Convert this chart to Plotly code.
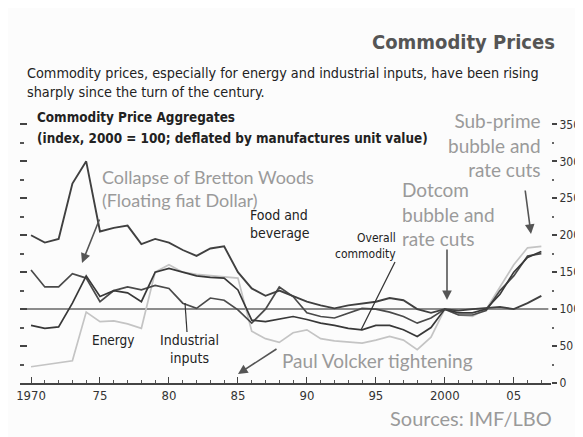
import plotly.graph_objects as go

years = list(range(1970, 2008))

food_beverage = [200, 190, 195, 270, 300, 205, 210, 213, 188, 195,
                 190, 180, 172, 182, 185, 150, 128, 118, 125, 117,
                 110, 105, 101, 105, 108, 110, 115, 112, 100, 95,
                 100, 98, 100, 102, 103, 100, 108, 118]

overall_commodity = [78, 74, 76, 108, 145, 117, 125, 122, 110, 150,
                     155, 150, 145, 143, 142, 126, 85, 83, 87, 90,
                     86, 81, 78, 74, 72, 78, 78, 72, 63, 75,
                     100, 95, 95, 100, 120, 150, 170, 178]

industrial_inputs = [153, 130, 130, 148, 142, 110, 125, 130, 126, 132,
                     128, 108, 101, 115, 112, 99, 81, 100, 130, 117,
                     95, 90, 88, 95, 101, 100, 96, 90, 81, 88,
                     100, 92, 92, 98, 125, 145, 172, 175]

energy = [22, 25, 28, 30, 96, 83, 84, 80, 74, 150,
          160, 150, 147, 145, 143, 142, 70, 60, 55, 68,
          72, 60, 57, 55, 54, 58, 63, 58, 45, 62,
          100, 92, 90, 100, 130, 160, 183, 185]

x_tick_vals = [1970, 1975, 1980, 1985, 1990, 1995, 2000, 2005]
x_tick_text = ["1970", "75", "80", "85", "90", "95", "2000", "05"]
y_tick_vals = [0, 50, 100, 150, 200, 250, 300, 350]

# page body has an 8px margin, so the figure is drawn 8px right/down
OFF = 8
W, H = 583 - OFF, 437 - OFF
# plot area in screen pixels
L, R, T, B = 20, 551, 117, 383


def px(x):
    return (x - L) / (R - L)


def py(y):
    return (B - y) / (B - T)


NARROW = "Liberation Sans Narrow, DejaVu Sans Condensed, Arial Narrow, sans-serif"
HUMAN = "Lato, Open Sans, sans-serif"

fig = go.Figure()

series = [
    ("Energy", energy, "#c4c4c4", 1.7),
    ("Industrial inputs", industrial_inputs, "#4a4a4a", 1.7),
    ("Overall commodity", overall_commodity, "#383838", 1.7),
    ("Food and beverage", food_beverage, "#404040", 1.9),
]
for name, vals, col, w in series:
    fig.add_trace(go.Scatter(x=years, y=vals, mode="lines", name=name,
                             line=dict(color=col, width=w), hoverinfo="skip"))

# hidden trace for the left tick axis
fig.add_trace(go.Scatter(x=[years[0]], y=[0], yaxis="y2", mode="markers",
                         marker=dict(opacity=0), showlegend=False, hoverinfo="skip"))

fig.add_shape(type="line", xref="paper", yref="y", x0=0.005, x1=0.995, y0=100, y1=100,
              line=dict(color="#8c8c8c", width=2), layer="below")

anns = []


def text(x, y, t, size, color, font=NARROW, xanchor="left", align="left", bold=False):
    if bold:
        t = "<b>" + t + "</b>"
    anns.append(dict(x=px(x), y=py(y), xref="paper", yref="paper", text=t, showarrow=False,
                     xanchor=xanchor, yanchor="middle", align=align,
                     font=dict(size=size, color=color, family=font)))


def arrow(xt, yt, xh, yh, color="#555555", head=2, width=1.6):
    anns.append(dict(x=px(xh), y=py(yh), xref="paper", yref="paper", text="",
                     showarrow=True, ax=xt - xh, ay=yt - yh, axref="pixel", ayref="pixel",
                     arrowhead=head, arrowsize=1.2, arrowwidth=width, arrowcolor=color))


text(557, 42, "Commodity Prices", 20, "#555555", xanchor="right", bold=True)
text(25, 83, "Commodity prices, especially for energy and industrial inputs, have been rising<br>"
     "sharply since the turn of the century.", 14.3, "#222222")
text(35, 117, "Commodity Price Aggregates", 13.4, "#222222", bold=True)
text(35, 138, "(index, 2000 = 100; deflated by manufactures unit value)", 13.4, "#222222", bold=True)

text(100, 188, "Collapse of Bretton Woods<br>(Floating fiat Dollar)", 18, "#9a9a9a", font=HUMAN)
text(248, 224, "Food and<br>beverage", 14, "#222222")
text(398, 246, "Overall<br>commodity", 12, "#222222", xanchor="right", align="right")
text(90, 340, "Energy", 13.5, "#222222")
text(189, 349, "Industrial<br>inputs", 14, "#222222", xanchor="center", align="center")
text(280, 360, "Paul Volcker tightening", 19, "#9a9a9a", font=HUMAN)
text(400, 214, "Dotcom<br>bubble and<br>rate cuts", 19, "#9a9a9a", font=HUMAN)
text(543, 145, "Sub-prime<br>bubble and<br>rate cuts", 19, "#9a9a9a", font=HUMAN,
     xanchor="right", align="right")
text(554, 418, "Sources: IMF/LBO", 20, "#9a9a9a", font=HUMAN, xanchor="right")

arrow(100, 218, 82, 263)
arrow(278, 348, 238, 374)
arrow(447, 248, 447, 300)
arrow(525, 189, 531, 234)

fig.add_shape(type="line", xref="paper", yref="paper", x0=px(395), y0=py(262), x1=px(361), y1=py(330),
              line=dict(color="#333333", width=1.2))
fig.add_shape(type="line", xref="paper", yref="paper", x0=px(185), y0=py(303), x1=px(187), y1=py(332),
              line=dict(color="#333333", width=1.2))

fig.update_layout(
    width=W, height=H,
    margin=dict(l=L - OFF, r=W - (R - OFF), t=T - OFF, b=H - (B - OFF), pad=0, autoexpand=False),
    paper_bgcolor="#fcfcfc", plot_bgcolor="rgba(0,0,0,0)",
    showlegend=False,
    annotations=anns,
    xaxis=dict(range=[1969.2, 2007.7], tickvals=x_tick_vals, ticktext=x_tick_text,
               ticks="inside", ticklen=6, tickwidth=1.2, tickcolor="#444444",
               minor=dict(dtick=1, ticks="inside", ticklen=3, tickcolor="#555555"),
               showline=True, linecolor="#444444", linewidth=1.5, showgrid=False, zeroline=False,
               automargin=False,
               tickfont=dict(family=NARROW, size=13, color="#333333")),
    yaxis=dict(range=[0, 360], side="right", tickvals=y_tick_vals,
               ticks="outside", ticklen=5, tickwidth=1.5, tickcolor="#444444",
               minor=dict(dtick=25, ticks="outside", ticklen=2, tickcolor="#666666"),
               showline=False, showgrid=False, zeroline=False, automargin=False,
               tickfont=dict(family=NARROW, size=12, color="#333333")),
    yaxis2=dict(range=[0, 360], overlaying="y", side="left", showticklabels=False,
                tickvals=y_tick_vals, ticks="inside", ticklen=7, tickwidth=1.5, tickcolor="#444444",
                minor=dict(dtick=25, ticks="inside", ticklen=4, tickcolor="#555555"),
                showline=False, showgrid=False, zeroline=False, automargin=False),
)

fig.write_html("out.html")
